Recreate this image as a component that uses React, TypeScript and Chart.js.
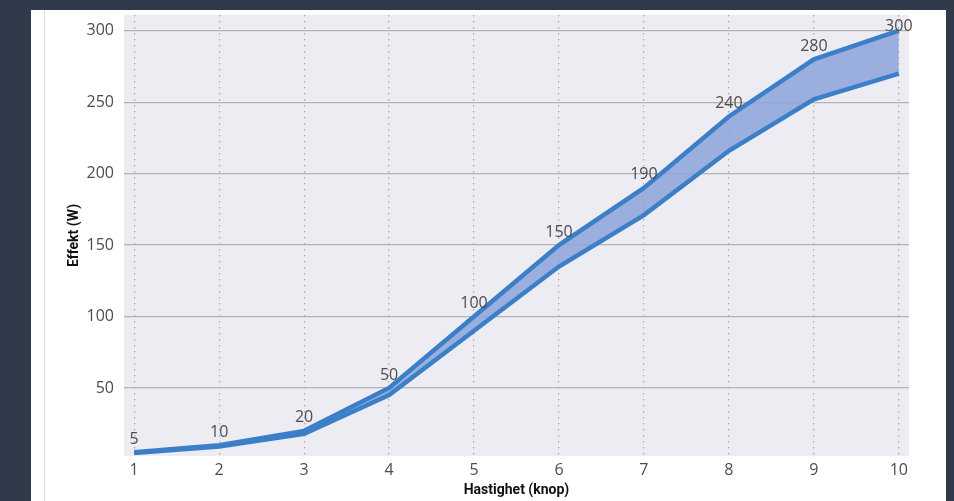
import React, { useEffect, useRef } from "react";
import { Chart, registerables } from "chart.js";

Chart.register(...registerables);

const speeds = [1, 2, 3, 4, 5, 6, 7, 8, 9, 10];
const upperPower = [5, 10, 20, 50, 100, 150, 190, 240, 280, 300];
const lowerPower = [4.5, 9, 18, 45, 90, 135, 171, 216, 252, 270];
const yTicks = [50, 100, 150, 200, 250, 300];

const LINE = "#3b7fc8";
const FILL = "rgba(140,165,218,0.85)";
const TEXT = "#4d4d4d";

const bgPlugin = {
  id: "plotBg",
  beforeDraw(chart: any) {
    const { ctx, chartArea } = chart;
    if (!chartArea) return;
    ctx.save();
    ctx.fillStyle = "#edecf2";
    ctx.fillRect(chartArea.left, chartArea.top, chartArea.right - chartArea.left, chartArea.bottom - chartArea.top);
    ctx.restore();
  },
};

const labelPlugin = {
  id: "pointLabels",
  afterDatasetsDraw(chart: any) {
    const { ctx, chartArea } = chart;
    const meta = chart.getDatasetMeta(0);
    ctx.save();
    ctx.font = "16px 'Open Sans', 'Noto Sans', sans-serif";
    ctx.fillStyle = TEXT;
    ctx.textAlign = "center";
    ctx.textBaseline = "bottom";
    meta.data.forEach((pt: any, i: number) => {
      let y = pt.y - 5;
      const minY = chartArea.top + 19;
      if (y < minY) y = minY;
      ctx.fillText(String(upperPower[i]), pt.x, y);
    });
    ctx.restore();
  },
};

export default function App() {
  const ref = useRef<HTMLCanvasElement | null>(null);

  useEffect(() => {
    if (!ref.current) return;
    const chart = new Chart(ref.current, {
      type: "line",
      data: {
        datasets: [
          {
            label: "Øvre",
            data: speeds.map((s, i) => ({ x: s, y: upperPower[i] })),
            borderColor: LINE,
            backgroundColor: FILL,
            borderWidth: 4.5,
            pointRadius: 0,
            tension: 0,
            fill: "+1",
          },
          {
            label: "Nedre",
            data: speeds.map((s, i) => ({ x: s, y: lowerPower[i] })),
            borderColor: LINE,
            backgroundColor: FILL,
            borderWidth: 4.5,
            pointRadius: 0,
            tension: 0,
            fill: false,
          },
        ],
      },
      options: {
        animation: false,
        responsive: false,
        maintainAspectRatio: false,
        layout: { padding: { left: 30, right: 37, top: 5, bottom: 0 } },
        plugins: {
          legend: { display: false },
          tooltip: { enabled: false },
          filler: { propagate: false, drawTime: "beforeDatasetsDraw" },
        },
        scales: {
          x: {
            type: "linear",
            min: 0.88,
            max: 10.12,
            afterBuildTicks: (scale: any) => {
              scale.ticks = speeds.map((v) => ({ value: v }));
            },
            afterFit: (scale: any) => {
              scale.height = 45;
              scale.paddingLeft = 0;
              scale.paddingRight = 0;
            },
            ticks: {
              color: TEXT,
              font: { family: "'Open Sans', 'Noto Sans', sans-serif", size: 16 },
              padding: 5,
              maxRotation: 0,
              autoSkip: false,
            },
            grid: {
              color: "#a8a8a8",
              lineWidth: 1.2,
              drawTicks: false,
            },
            border: { display: false, dash: [1.5, 4.5] },
            title: {
              display: true,
              text: "Hastighet (knop)",
              color: "#111111",
              font: { family: "Roboto, 'Noto Sans', sans-serif", size: 14, weight: "bold" },
              padding: { top: 0, bottom: 2 },
            },
          },
          y: {
            type: "linear",
            min: 2.4,
            max: 311,
            afterBuildTicks: (scale: any) => {
              scale.ticks = yTicks.map((v) => ({ value: v }));
            },
            afterFit: (scale: any) => {
              scale.width = 63;
              scale.paddingTop = 0;
              scale.paddingBottom = 0;
            },
            ticks: {
              color: TEXT,
              font: { family: "'Open Sans', 'Noto Sans', sans-serif", size: 16 },
              padding: 10,
            },
            grid: {
              color: "#b3b3b3",
              lineWidth: 1.2,
              drawTicks: false,
            },
            border: { display: false },
            title: {
              display: true,
              text: "Effekt (W)",
              color: "#111111",
              font: { family: "Roboto, 'Noto Sans', sans-serif", size: 14, weight: "bold" },
              padding: { top: 5, bottom: 0 },
            },
          },
        },
      },
      plugins: [bgPlugin, labelPlugin],
    } as any);
    return () => chart.destroy();
  }, []);

  return (
    <div style={{ position: "fixed", left: 0, top: 0, width: 954, height: 501, background: "#2f3b4a", overflow: "hidden" }}>
      <div style={{ position: "absolute", left: 31, top: 10, width: 915, height: 491, background: "#ffffff" }}>
        <div style={{ position: "absolute", left: 13, top: 0, width: 1, height: 491, background: "#dcdcdc" }} />
        <canvas ref={ref} width={915} height={491} style={{ position: "absolute", left: 0, top: 0, width: 915, height: 491 }} />
      </div>
    </div>
  );
}
